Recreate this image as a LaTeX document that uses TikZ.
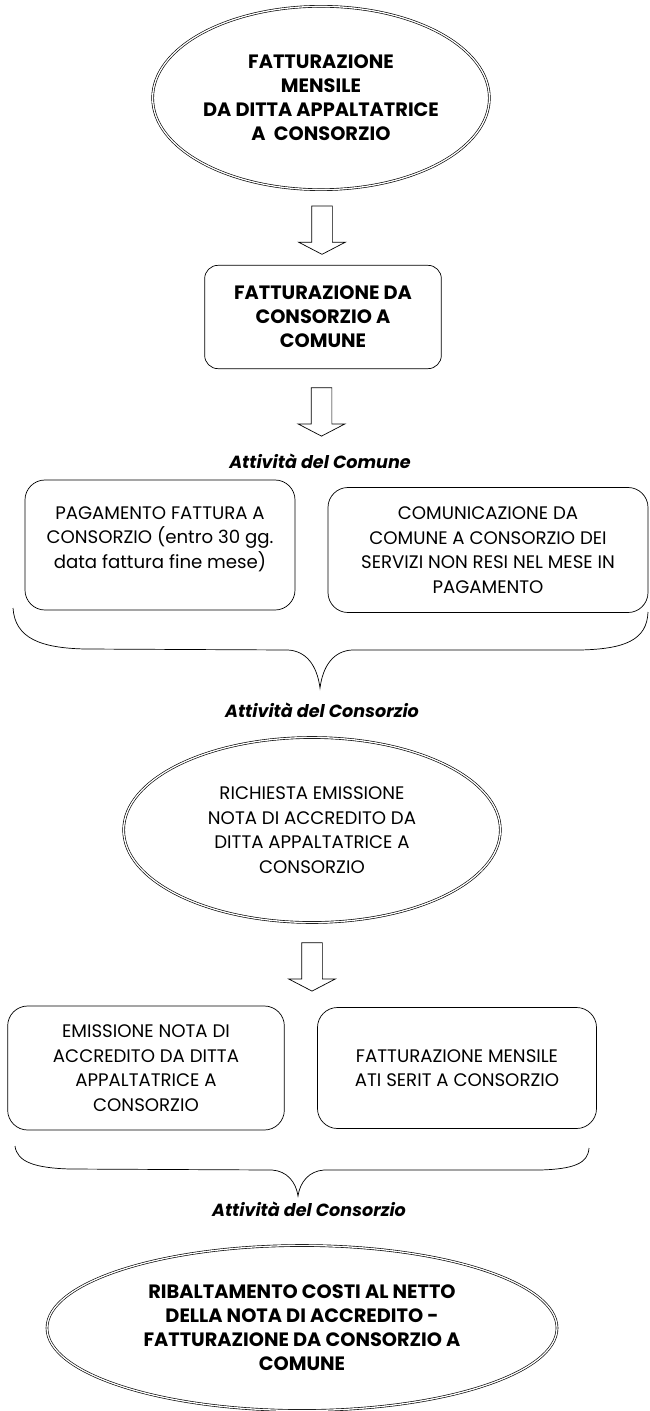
\documentclass[tikz,border=0pt]{standalone}
\usepackage{fontspec}
\setmainfont{Poppins}
\usetikzlibrary{shapes.geometric, shapes.arrows}
\newcommand{\phasesize}{\fontsize{16.5}{20.4}\selectfont}
\newcommand{\tasksize}{\fontsize{15.5}{21}\selectfont}
\newcommand{\capsize}{\fontsize{15}{17}\selectfont}
\begin{document}
\begin{tikzpicture}[x=0.03cm, y=-0.03cm,
        phase/.style={ellipse, draw, double, double distance=1.1pt, line width=0.55pt, inner sep=0pt, align=center},
        task/.style={draw, rounded corners=0.6cm, line width=0.6pt, inner sep=0pt, align=center, font=\tasksize},
        caption/.style={font=\capsize\bfseries\itshape},
        blockarrow/.style={single arrow, draw, line width=0.6pt, shape border rotate=270, inner sep=0.3cm,
            minimum height=1.45cm, single arrow head extend=0.39cm, single arrow tip angle=125},
        bracket/.style={line width=0.6pt}]
    \useasboundingbox (0,0) rectangle (649,1411);

    \node[phase, font=\phasesize\bfseries, minimum width=10.1cm, minimum height=5.5cm] (fattmens) at (321,98)
        {FATTURAZIONE\\MENSILE\\DA DITTA APPALTATRICE\\A\ \ CONSORZIO};
    \node[task, font=\phasesize\bfseries, rounded corners=0.4cm, minimum width=7.1cm, minimum height=3.1cm] (fattcom) at (323,317)
        {FATTURAZIONE DA\\CONSORZIO A\\COMUNE};
    \node[caption] (attcom) at (320,461) {Attività del Comune};

    \node[task, minimum width=8.1cm, minimum height=3.9cm] (pagam) at (160,545)
        {PAGAMENTO FATTURA A\\CONSORZIO (entro 30 gg.\\data fattura fine mese)\\[-14.5pt]\strut};
    \node[task, minimum width=9.6cm, minimum height=3.75cm] (comunic) at (488,550)
        {COMUNICAZIONE DA\\COMUNE A CONSORZIO DEI\\SERVIZI NON RESI NEL MESE IN\\PAGAMENTO};

    \node[caption] (attcons) at (322,710) {Attività del Consorzio};
    \node[phase, font=\tasksize, minimum width=11.3cm, minimum height=5.55cm] (richiesta) at (312,830)
        {RICHIESTA EMISSIONE\\NOTA DI ACCREDITO DA\\DITTA APPALTATRICE A\\CONSORZIO};

    \node[task, minimum width=8.3cm, minimum height=3.72cm] (emiss) at (146,1068)
        {EMISSIONE NOTA DI\\ACCREDITO DA DITTA\\APPALTATRICE A\\CONSORZIO};
    \node[task, minimum width=8.37cm, minimum height=3.63cm] (atiserit) at (457,1068)
        {FATTURAZIONE MENSILE\\ATI SERIT A CONSORZIO};

    \node[caption] (attcons2) at (309,1209) {Attività del Consorzio};
    \node[phase, font=\phasesize\bfseries, minimum width=15.3cm, minimum height=4.95cm] (ribalt) at (302,1328)
        {RIBALTAMENTO COSTI AL NETTO\\DELLA NOTA DI ACCREDITO -\\FATTURAZIONE DA CONSORZIO A\\COMUNE};

    % frecce
    \path (fattmens.south) -- node[blockarrow] (ar1) {} (fattcom.north);
    \path (fattcom.south) -- node[blockarrow] (ar2) {} (attcom.north);
    \path (richiesta.south) -- node[blockarrow] (ar3) {} (emiss.north -| richiesta.south);

    % graffe
    \draw[bracket] (13,608) .. controls (15,638) and (40,648) .. (85,649)
        -- (288,650) .. controls (306,651) and (317,665) .. (320,688)
        .. controls (323,665) and (334,651) .. (352,650)
        -- (580,650) .. controls (625,649) and (647,640) .. (648,612);
    \draw[bracket] (15,1146) .. controls (17,1162) and (35,1168) .. (70,1169)
        -- (272,1170) .. controls (287,1171) and (296,1182) .. (298,1196)
        .. controls (300,1182) and (309,1171) .. (324,1170)
        -- (540,1170) .. controls (575,1169) and (588,1163) .. (589,1148);
\end{tikzpicture}
\end{document}
